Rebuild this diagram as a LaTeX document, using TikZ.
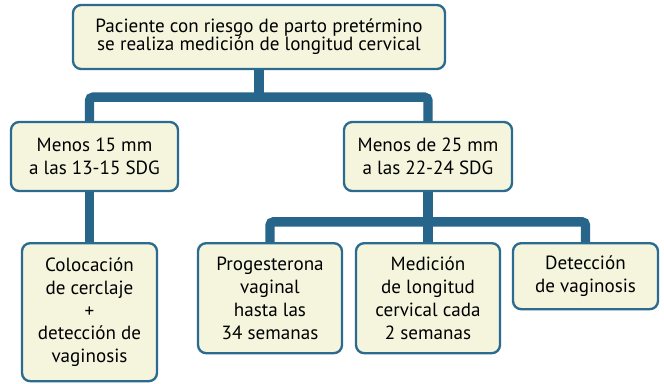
\documentclass[tikz,border=0pt]{standalone}
\usepackage{fontspec}
\setmainfont{PT Sans}
\usetikzlibrary{positioning, calc}

\definecolor{boxline}{HTML}{2B6B8F}
\definecolor{boxfill}{HTML}{F5F5DE}
\definecolor{linkcol}{HTML}{27668A}
\newcommand{\tightlines}{\setlength{\lineskiplimit}{-10pt}}

\begin{document}
\begin{tikzpicture}[
    font=\fontsize{16.3}{19.5}\selectfont,
    stepbox/.style={draw=boxline, fill=boxfill, line width=2pt, rounded corners=7pt,
                    align=center, inner sep=2pt},
    topbox/.style={stepbox, font=\fontsize{16.3}{15.6}\selectfont\tightlines},
    link/.style={draw=linkcol, line width=8pt, rounded corners=3pt},
]
\useasboundingbox (0,0) rectangle (19.92,-11.49);

% --- Nodes ---
\node[topbox, minimum width=11.16cm, minimum height=1.92cm] (top) at (7.77, -1.11)
    {Paciente con riesgo de parto pretérmino\\se realiza medición de longitud cervical};

\node[stepbox, minimum width=5.01cm, minimum height=2.07cm] (lbox) at (2.835, -4.695)
    {Menos 15 mm\\a las 13-15 SDG};
\node[stepbox, minimum width=5.04cm, minimum height=2.07cm] (rbox) at (12.84, -4.695)
    {Menos de 25 mm\\a las 22-24 SDG};

\node[stepbox, anchor=north, minimum width=4.05cm, minimum height=4.14cm] (cbox) at (2.685, -7.26)
    {Colocación\\de cerclaje\\+\\detección de\\vaginosis};
\node[stepbox, anchor=north, minimum width=4.32cm, minimum height=3.3cm] (pbox) at (8.1, -7.26)
    {Progesterona\\vaginal\\hasta las\\34 semanas};
\node[stepbox, anchor=north, minimum width=4.32cm, minimum height=3.3cm] (mbox) at (12.84, -7.26)
    {Medición\\de longitud\\cervical cada\\2 semanas};
\node[stepbox, anchor=north, minimum width=4.35cm, minimum height=1.98cm] (dbox) at (17.565, -7.26)
    {Detección\\de vaginosis};

% --- Connectors ---
\coordinate (split1) at ($(top.south)+(0,-0.81)$);
\coordinate (split2) at ($(rbox.south)+(0,-0.89)$);

\draw[link] (top.south) -- (split1);
\draw[link] (lbox.north -| cbox.north) |- (split1) -| (rbox.north);
\draw[link] (lbox.south -| cbox.north) -- (cbox.north);

\draw[link] (rbox.south) -- (mbox.north);
\draw[link] (pbox.north) |- (split2) -| (dbox.north);

\end{tikzpicture}
\end{document}
